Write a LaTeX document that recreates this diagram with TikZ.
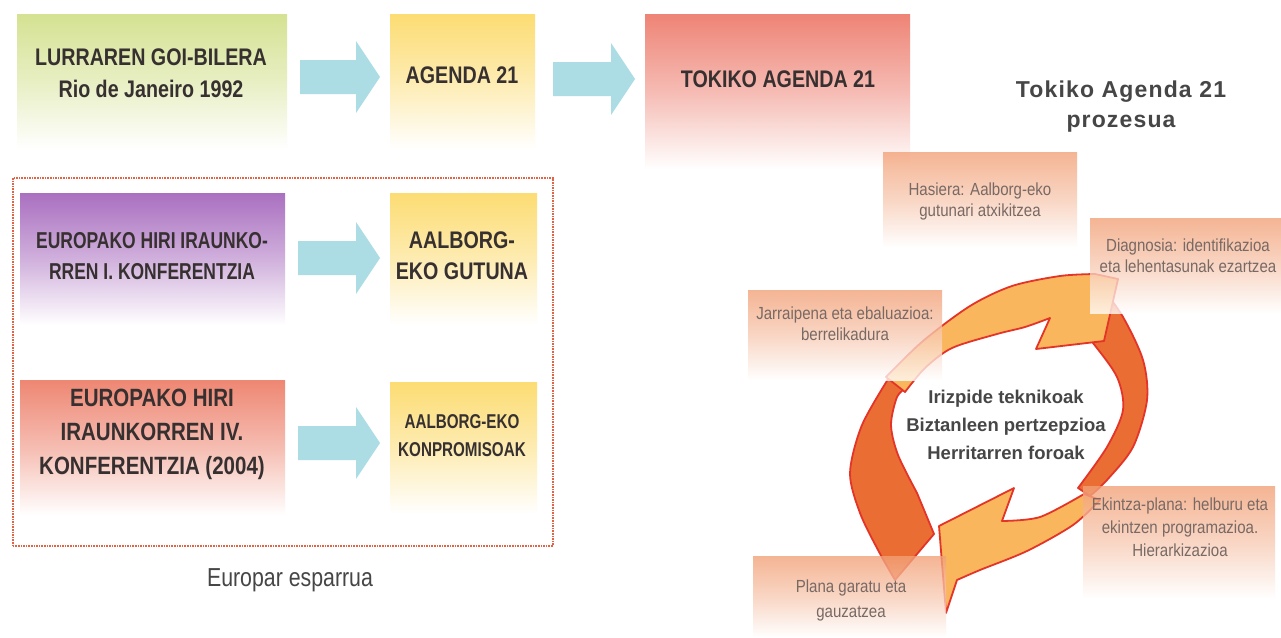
\documentclass[tikz,border=0pt]{standalone}
\usepackage{fontspec}
\setmainfont{Liberation Sans}
\newfontfamily\condA[FakeStretch=0.82]{Liberation Sans}
\newfontfamily\condB[FakeStretch=0.76]{Liberation Sans}
\newfontfamily\smallf[FakeStretch=0.86]{Liberation Sans}
\newfontfamily\spacedf[LetterSpace=5]{Liberation Sans}
\usetikzlibrary{calc}
\definecolor{cgreen}{RGB}{212,226,146}
\definecolor{cyellow}{RGB}{252,220,115}
\definecolor{cred}{RGB}{238,132,118}
\definecolor{cpurple}{RGB}{170,112,192}
\definecolor{cred2}{RGB}{238,135,115}
\definecolor{cblue}{RGB}{172,220,228}
\definecolor{csalmon}{RGB}{242,160,118}
\definecolor{clight}{RGB}{250,182,92}
\definecolor{cdark}{RGB}{234,110,52}
\definecolor{cline}{RGB}{228,52,40}
\definecolor{cdot}{RGB}{225,100,70}
\definecolor{ctext}{RGB}{55,48,48}
\definecolor{csmall}{RGB}{120,105,100}
\definecolor{cgrey}{RGB}{70,70,70}
\newcommand\blockarr[3]{%
  \fill[cblue] (#1,#3-17) -- (#2-24,#3-17) -- (#2-24,#3-36) -- (#2,#3) -- (#2-24,#3+36) -- (#2-24,#3+17) -- (#1,#3+17) -- cycle;}
\begin{document}
\begin{tikzpicture}[x=1pt,y=-1pt,
  bigbox/.style={rectangle, inner sep=0pt, anchor=north west, top color=#1, bottom color=white, middle color=#1!55!white},
  smallbox/.style={rectangle, inner sep=0pt, anchor=north west, top color=csalmon, bottom color=white, middle color=csalmon!55!white, fill opacity=0.78},
  boxtext/.style={align=center, text=ctext, inner sep=0pt},
  smalltext/.style={align=center, text=csmall, inner sep=0pt, font=\smallf\fontsize{17.5}{21}\selectfont},
  lightarr/.style={fill=clight, draw=cline, line width=1.8pt, line join=round},
  darkarr/.style={fill=cdark, draw=cline, line width=1.8pt, line join=round}]
\useasboundingbox (0,0) rectangle (1281,637);
\fill[white] (0,0) rectangle (1281,637);
% top row
\node[bigbox=cgreen, minimum width=270pt, minimum height=135pt] (rio) at (17,14) {};
\node[boxtext, font=\condA\bfseries\fontsize{24}{32}\selectfont] (rioT) at (151,73) {LURRAREN GOI-BILERA\\Rio de Janeiro 1992};
\node[bigbox=cyellow, minimum width=145pt, minimum height=135pt] (ag) at (390,14) {};
\node[boxtext, font=\condA\bfseries\fontsize{24}{32}\selectfont] (agT) at (462,75) {AGENDA 21};
\node[bigbox=cred, minimum width=265pt, minimum height=155pt] (tok) at (645,14) {};
\node[boxtext, font=\condA\bfseries\fontsize{24}{32}\selectfont] (tokT) at (778,79) {TOKIKO AGENDA 21};
\blockarr{300}{380}{77}
\blockarr{553}{635}{79}
% European frame
\node[draw=cdot, densely dotted, line width=1.6pt, inner sep=0pt, anchor=north west, minimum width=540pt, minimum height=368pt] (eur) at (12,177) {};
\node[bigbox=cpurple, minimum width=265pt, minimum height=132pt] (conf1) at (20,193) {};
\node[boxtext, font=\condB\bfseries\fontsize{23}{31}\selectfont] (conf1T) at (152,256) {EUROPAKO HIRI IRAUNKO-\\RREN I. KONFERENTZIA};
\node[bigbox=cyellow, minimum width=147pt, minimum height=132pt] (gut) at (390,193) {};
\node[boxtext, font=\condA\bfseries\fontsize{24}{31}\selectfont] (gutT) at (462,256) {AALBORG-\\EKO GUTUNA};
\node[bigbox=cred2, minimum width=265pt, minimum height=135pt] (conf4) at (20,380) {};
\node[boxtext, font=\condA\bfseries\fontsize{25}{34}\selectfont] (conf4T) at (152,434) {EUROPAKO HIRI\\IRAUNKORREN IV.\\KONFERENTZIA (2004)};
\node[bigbox=cyellow, minimum width=147pt, minimum height=132pt] (konp) at (390,382) {};
\node[boxtext, font=\condB\bfseries\fontsize{20}{28}\selectfont] (konpT) at (462,436) {AALBORG-EKO\\KONPROMISOAK};
\blockarr{298}{380}{258}
\blockarr{298}{380}{443}
\node[text=cgrey, inner sep=0pt, font=\condA\fontsize{26}{28}\selectfont] (eurT) at (290,580) {Europar esparrua};
% title
\node[align=center, text=cgrey, inner sep=0pt, font=\spacedf\bfseries\fontsize{23}{30}\selectfont] (title) at (1121,107) {Tokiko Agenda 21\\prozesua};
% cycle
\filldraw[darkarr] plot[smooth] coordinates {(1100,285) (1123,317) (1143,360) (1147,400) (1133,447) (1107,480) (1090,496)}
  -- plot[smooth] coordinates {(1078,488) (1107,447) (1123,410) (1117,377) (1093,343) (1075,322)} -- cycle;
\filldraw[darkarr] plot[smooth] coordinates {(890,376) (862,425) (850,473) (860,513) (878,550) (895,580)}
  -- (934,534) -- plot[smooth] coordinates {(917,493) (898,455) (891,425) (897,397) (906,388)} -- cycle;
\filldraw[lightarr] plot[smooth] coordinates {(886,377) (923,341) (970,306) (1012,286) (1060,276) (1095,274)}
  -- (1118,279) -- (1104,341) -- (1036,349) -- plot[smooth] coordinates {(1050,318) (1025,327) (997,334) (952,348) (925,368) (905,392)} -- cycle;
\filldraw[lightarr] plot[smooth] coordinates {(1100,500) (1073,525) (1027,551) (980,570) (957,580)}
  -- (946,613) -- (939,526) -- (1014,488) -- plot[smooth] coordinates {(1002,521) (1040,517) (1084,494)} -- cycle;
\node[align=center, text=cgrey, inner sep=0pt, font=\bfseries\fontsize{18.5}{28}\selectfont] (core) at (1006,425) {Irizpide teknikoak\\Biztanleen pertzepzioa\\Herritarren foroak};
% stage boxes
\node[smallbox, minimum width=194pt, minimum height=95pt] (has) at (883,152) {};
\node[smalltext] (hasT) at (980,201) {Hasiera: Aalborg-eko\\gutunari atxikitzea};
\node[smallbox, minimum width=191pt, minimum height=95pt] (diag) at (1090,218) {};
\node[smalltext] (diagT) at (1188,256) {Diagnosia: identifikazioa\\eta lehentasunak ezartzea};
\node[smallbox, minimum width=194pt, minimum height=90pt] (jar) at (748,290) {};
\node[smalltext] (jarT) at (845,324) {Jarraipena eta ebaluazioa:\\berrelikadura};
\node[smallbox, minimum width=192pt, minimum height=112pt] (ekin) at (1083,486) {};
\node[smalltext, font=\smallf\fontsize{17.5}{23}\selectfont] (ekinT) at (1180,527) {Ekintza-plana: helburu eta\\ekintzen programazioa.\\Hierarkizazioa};
\node[smallbox, minimum width=193pt, minimum height=81pt] (plan) at (753,556) {};
\node[smalltext, font=\smallf\fontsize{17.5}{25}\selectfont] (planT) at (851,600) {Plana garatu eta\\gauzatzea};
\end{tikzpicture}
\end{document}
